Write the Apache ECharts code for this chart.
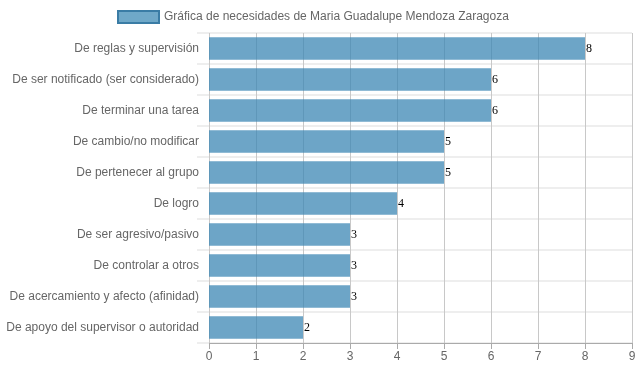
<!DOCTYPE html>
<html><head><meta charset="utf-8">
<script src="https://cdn.jsdelivr.net/npm/echarts@6/dist/echarts.min.js"></script>
<style>html,body{margin:0;padding:0;background:#fff}#c{width:639px;height:372px}</style>
</head><body><div id="c"></div>
<script>
const categories = ["De reglas y supervisión","De ser notificado (ser considerado)","De terminar una tarea","De cambio/no modificar","De pertenecer al grupo","De logro","De ser agresivo/pasivo","De controlar a otros","De acercamiento y afecto (afinidad)","De apoyo del supervisor o autoridad"];
const values = [8,6,6,5,5,4,3,3,3,2];
const seriesName = "Gráfica de necesidades de Maria Guadalupe Mendoza Zaragoza";
const chart = echarts.init(document.getElementById('c'));
chart.setOption({
  animation:false,
  legend:{top:5,left:112,itemWidth:41,itemHeight:12,itemGap:6,icon:'rect',
    textStyle:{color:'#666',fontSize:12,fontFamily:'Liberation Sans, Arial'},
    data:[{name:seriesName,icon:'rect',itemStyle:{color:'#6fa8c8',borderColor:'#3a7ca5',borderWidth:2}}]},
  grid:{left:209,right:7,top:33,bottom:29,containLabel:false},
  xAxis:{type:'value',min:0,max:9,interval:1,
    axisLine:{show:true,lineStyle:{color:'#aaa'}},
    axisTick:{show:true,length:6,lineStyle:{color:'#aaa'}},
    axisLabel:{color:'#666',fontSize:12,fontFamily:'Liberation Sans, Arial',margin:8},
    splitLine:{show:true,lineStyle:{color:'#c8c8c8',width:1}}},
  yAxis:{type:'category',data:categories,inverse:true,
    axisLine:{show:false},
    axisTick:{show:true,length:12,lineStyle:{color:'#eee',width:2}},
    axisLabel:{color:'#666',fontSize:12,fontFamily:'Liberation Sans, Arial',margin:10},
    splitLine:{show:true,lineStyle:{color:'#eee',width:2}}},
  series:[{name:seriesName,type:'bar',data:values,barCategoryGap:'28%',
    itemStyle:{color:'rgba(60,135,180,0.75)'},
    label:{show:true,position:'right',distance:1,color:'#000',fontSize:12,fontFamily:'Liberation Serif, Times New Roman, serif'}}]
});
</script></body></html>
